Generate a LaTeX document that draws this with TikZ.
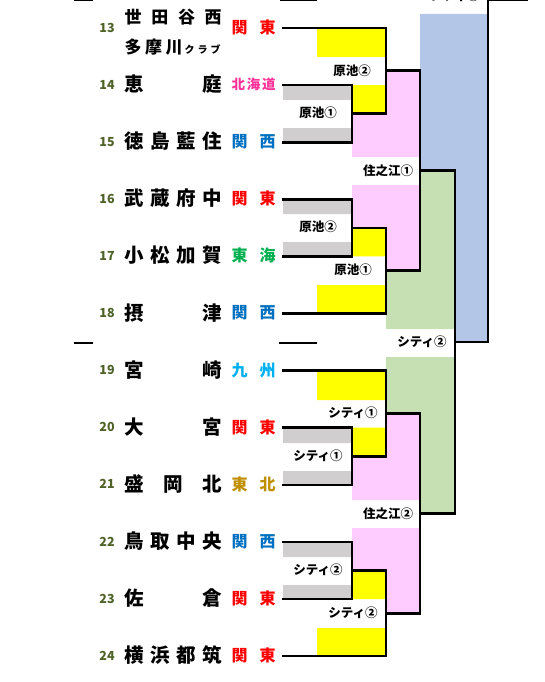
\documentclass[tikz,border=0pt]{standalone}
\usepackage{fontspec}
\newfontfamily\jp{Noto Sans CJK JP}
\definecolor{cyel}{HTML}{FFFF00}
\definecolor{cgry}{HTML}{D0CECE}
\definecolor{cpnk}{HTML}{FFCCFF}
\definecolor{cgrn}{HTML}{C6E0B4}
\definecolor{cblu}{HTML}{B4C6E7}
\definecolor{rkanto}{HTML}{FF0000}
\definecolor{rhok}{HTML}{FF3399}
\definecolor{rkansai}{HTML}{0070C0}
\definecolor{rtokai}{HTML}{00B050}
\definecolor{rkyushu}{HTML}{00B0F0}
\definecolor{rtohoku}{HTML}{BF8F00}
\definecolor{cnum}{HTML}{4F6228}
\begin{document}
\begin{tikzpicture}[x=1pt,y=-1pt,
  brk/.style={line width=2.6pt,line join=miter,line cap=rect},
  thinln/.style={line width=1.3pt},
  nm/.style={anchor=west,inner sep=0pt,font=\jp\bfseries\fontsize{19.5}{20}\selectfont},
  nmsm/.style={anchor=west,inner sep=0pt,font=\jp\bfseries\fontsize{17}{18}\selectfont},
  num/.style={inner sep=0pt,text=cnum,font=\jp\bfseries\fontsize{12.5}{13}\selectfont},
  reg/.style={anchor=west,inner sep=0pt,font=\jp\bfseries\fontsize{16}{17}\selectfont},
  regsm/.style={anchor=west,inner sep=0pt,font=\jp\bfseries\fontsize{13.5}{14}\selectfont},
  lbl/.style={inner sep=0pt,font=\jp\bfseries\fontsize{12.5}{13}\selectfont},
]
\useasboundingbox (0,0) rectangle (544,682);
\clip (0,0) rectangle (544,682);
% ---------- fills ----------
\fill[cblu] (420,14) rectangle (488,170.75) (455,170.75) rectangle (488,342.05);
\fill[cgrn] (420,170.75) rectangle (455,270.7) (386,270.7) rectangle (455,329)
            (386,357) rectangle (455,413.4) (420,413.4) rectangle (455,513.35);
\fill[cpnk] (386,70.8) rectangle (420,113.65) (352,113.65) rectangle (420,157)
            (352,185) rectangle (420,227.85) (386,227.85) rectangle (420,270.7)
            (386,413.4) rectangle (420,456.25) (352,456.25) rectangle (420,500)
            (352,528) rectangle (420,570.45) (386,570.45) rectangle (420,613.3);
\fill[cyel] (317,28) rectangle (386,57) (352,85.1) rectangle (386,113.65)
            (352,227.85) rectangle (386,256.4) (317,285) rectangle (386,313.5)
            (317,370.6) rectangle (386,400) (352,427.7) rectangle (386,456.25)
            (352,570.45) rectangle (386,599) (317,628) rectangle (386,656.1);
\fill[cgry] (283,85.1) rectangle (352,100) (283,128) rectangle (352,142.2)
            (283,199.3) rectangle (352,214) (283,242) rectangle (352,256.4)
            (283,427.7) rectangle (352,443) (283,471) rectangle (352,484.8)
            (283,541.9) rectangle (352,557) (283,585) rectangle (352,599);
% ---------- team line ends ----------
\coordinate (e13) at (283,28);    \coordinate (e14) at (283,85.1);
\coordinate (e15) at (283,142.2); \coordinate (e16) at (283,199.3);
\coordinate (e17) at (283,256.4); \coordinate (e18) at (283,313.5);
\coordinate (e19) at (283,370.6); \coordinate (e20) at (283,427.7);
\coordinate (e21) at (283,484.8); \coordinate (e22) at (283,541.9);
\coordinate (e23) at (283,599);   \coordinate (e24) at (283,656.1);
% ---------- bracket lines ----------
\draw[brk] (e14) -- (352,85.1) -- (352,142.2) -- (e15);
\draw[brk] (e13) -- (386,28) -- (386,113.65) -- (352,113.65);
\draw[brk] (e16) -- (352,199.3) -- (352,256.4) -- (e17);
\draw[brk] (e18) -- (386,313.5) -- (386,227.85) -- (352,227.85);
\draw[brk] (386,70.8) -- (420,70.8) -- (420,270.7) -- (386,270.7);
\draw[brk] (e20) -- (352,427.7) -- (352,484.8) -- (e21);
\draw[brk] (e19) -- (386,370.6) -- (386,456.25) -- (352,456.25);
\draw[brk] (e22) -- (352,541.9) -- (352,599) -- (e23);
\draw[brk] (e24) -- (386,656.1) -- (386,570.45) -- (352,570.45);
\draw[brk] (386,413.4) -- (420,413.4) -- (420,613.3) -- (386,613.3);
\draw[brk] (420,170.75) -- (455,170.75) -- (455,513.35) -- (420,513.35);
\draw[brk] (455,342.05) -- (488,342.05) -- (488,-0.3) -- (527,-0.3);
\draw[thinln] (74,0.5) -- (93,0.5) (280,0.5) -- (317,0.5);
\draw[thinln] (74,343) -- (93,343) (279,343) -- (317,343);
% ---------- numbers ----------
\foreach \n/\y in {13/27.5,14/84.6,15/141.7,16/198.8,17/255.9,18/313,19/370.1,20/427.2,21/484.3,22/541.4,23/598.5,24/655.6}
  \node[num] (n\n) at (107,\y) {\n};
% ---------- names ----------
\node[nmsm] (t13a) at (124.5,17) {\makebox[97pt][s]{世\hfill 田\hfill 谷\hfill 西}};
\node[nmsm] (t13b) at (124.5,47) {\makebox[58pt][s]{多\hfill 摩\hfill 川}\hspace{2pt}{\fontsize{10}{10}\selectfont\makebox[36pt][s]{ク\hfill ラ\hfill ブ}}};
\node[nm] (t14) at (124.5,84.3) {\makebox[97pt][s]{恵\hfill 庭}};
\node[nm] (t15) at (124.5,141.4) {\makebox[97pt][s]{徳\hfill 島\hfill 藍\hfill 住}};
\node[nm] (t16) at (124.5,198.5) {\makebox[97pt][s]{武\hfill 蔵\hfill 府\hfill 中}};
\node[nm] (t17) at (124.5,255.6) {\makebox[97pt][s]{小\hfill 松\hfill 加\hfill 賀}};
\node[nm] (t18) at (124.5,312.7) {\makebox[97pt][s]{摂\hfill 津}};
\node[nm] (t19) at (124.5,369.8) {\makebox[97pt][s]{宮\hfill 崎}};
\node[nm] (t20) at (124.5,426.9) {\makebox[97pt][s]{大\hfill 宮}};
\node[nm] (t21) at (124.5,484) {\makebox[97pt][s]{盛\hfill 岡\hfill 北}};
\node[nm] (t22) at (124.5,541.1) {\makebox[97pt][s]{鳥\hfill 取\hfill 中\hfill 央}};
\node[nm] (t23) at (124.5,598.2) {\makebox[97pt][s]{佐\hfill 倉}};
\node[nm] (t24) at (124.5,655.3) {\makebox[97pt][s]{横\hfill 浜\hfill 都\hfill 筑}};
% ---------- regions ----------
\node[reg,text=rkanto] (r13) at (231.5,27.5) {\makebox[44pt][s]{関\hfill 東}};
\node[regsm,text=rhok] (r14) at (231.5,84.6) {\makebox[44pt][s]{北\hfill 海\hfill 道}};
\node[reg,text=rkansai] (r15) at (231.5,141.7) {\makebox[44pt][s]{関\hfill 西}};
\node[reg,text=rkanto] (r16) at (231.5,198.8) {\makebox[44pt][s]{関\hfill 東}};
\node[reg,text=rtokai] (r17) at (231.5,255.9) {\makebox[44pt][s]{東\hfill 海}};
\node[reg,text=rkansai] (r18) at (231.5,313) {\makebox[44pt][s]{関\hfill 西}};
\node[reg,text=rkyushu] (r19) at (231.5,370.1) {\makebox[44pt][s]{九\hfill 州}};
\node[reg,text=rkanto] (r20) at (231.5,427.2) {\makebox[44pt][s]{関\hfill 東}};
\node[reg,text=rtohoku] (r21) at (231.5,484.3) {\makebox[44pt][s]{東\hfill 北}};
\node[reg,text=rkansai] (r22) at (231.5,541.4) {\makebox[44pt][s]{関\hfill 西}};
\node[reg,text=rkanto] (r23) at (231.5,598.5) {\makebox[44pt][s]{関\hfill 東}};
\node[reg,text=rkanto] (r24) at (231.5,655.6) {\makebox[44pt][s]{関\hfill 東}};
% ---------- winner labels ----------
\node[lbl] (w1) at (352,70.5) {原池②};
\node[lbl] (w2) at (318,113) {原池①};
\node[lbl] (w3) at (388,171) {住之江①};
\node[lbl] (w4) at (318,227) {原池②};
\node[lbl] (w5) at (353,270) {原池①};
\node[lbl] (w6) at (422,342) {シティ②};
\node[lbl] (w7) at (353,413) {シティ①};
\node[lbl] (w8) at (318,456) {シティ①};
\node[lbl] (w9) at (388,513.5) {住之江②};
\node[lbl] (w10) at (318,570) {シティ②};
\node[lbl] (w11) at (353,613) {シティ②};
\node[lbl] (w12) at (455,-4.5) {シティ①};
\end{tikzpicture}
\end{document}
